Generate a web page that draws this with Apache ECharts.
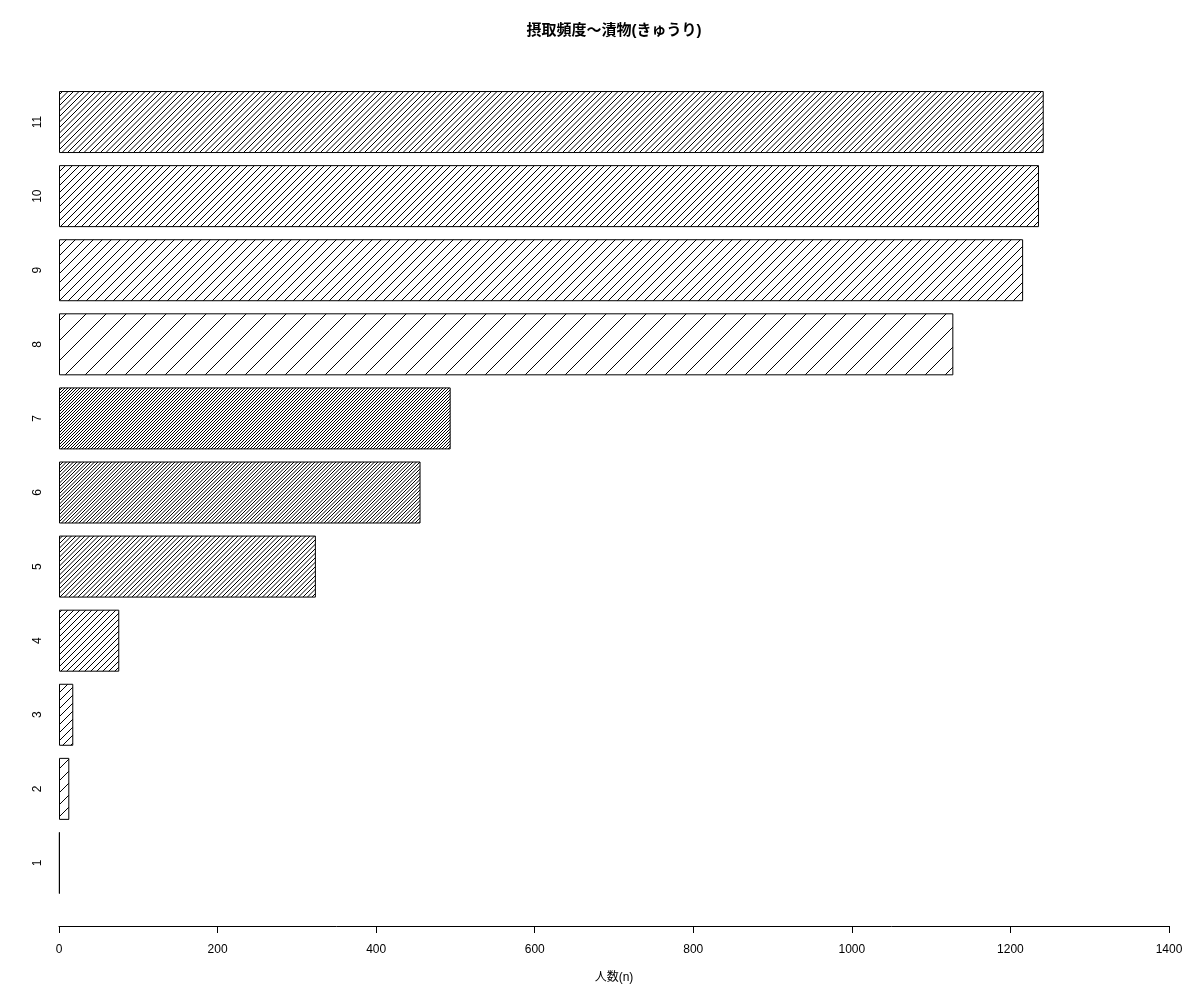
<!DOCTYPE html>
<html>
<head>
<meta charset="utf-8">
<script src="https://cdn.jsdelivr.net/npm/echarts@6/dist/echarts.min.js"></script>
<style>html,body{margin:0;padding:0;background:#fff;}#c{width:1200px;height:1000px;}</style>
</head>
<body>
<div id="c"></div>
<script>
// ---- data ----
var categories = ['1','2','3','4','5','6','7','8','9','10','11'];
var values = [1, 13, 18, 76, 324, 456, 494, 1128, 1216, 1236, 1242];
var xTicks = [0, 200, 400, 600, 800, 1000, 1200, 1400];
var titleText = '摂取頻度〜漬物(きゅうり)';
var xName = '人数(n)';

// ---- style (hatch spacing in px, horizontal) ----
var hatchSpacing = [12, 12, 8, 6, 4.5, 3.5, 3, 20, 9, 7, 5.5];

// one large, seamless hatch canvas per spacing (no tile seams inside a bar)
function makeHatch(s) {
  var W = 1200, H = 1000;
  var c = document.createElement('canvas');
  c.width = W; c.height = H;
  var g = c.getContext('2d');
  g.fillStyle = '#fff'; g.fillRect(0, 0, W, H);
  g.strokeStyle = '#000'; g.lineWidth = 1;
  g.beginPath();
  for (var x0 = -H; x0 <= W + s; x0 += s) {
    g.moveTo(x0, H);
    g.lineTo(x0 + H, 0);
  }
  g.stroke();
  return c;
}

var font = '"Liberation Sans", Arimo, "Noto Sans CJK JP", sans-serif';
var chart = echarts.init(document.getElementById('c'), null, {renderer: 'canvas'});
var data = values.map(function (v, i) {
  return {
    value: v,
    itemStyle: {
      color: {image: makeHatch(hatchSpacing[i]), repeat: 'no-repeat'},
      borderColor: '#000',
      borderWidth: 1
    }
  };
});

chart.setOption({
  animation: false,
  backgroundColor: '#fff',
  title: {
    text: titleText,
    left: 609,
    textAlign: 'center',
    top: 18,
    textStyle: {fontFamily: font, fontSize: 15, fontWeight: 'bold', color: '#000'}
  },
  grid: {left: 59, right: 31, top: 85, bottom: 100},
  xAxis: {
    type: 'value',
    min: xTicks[0],
    max: xTicks[xTicks.length - 1],
    interval: 200,
    offset: 26,
    name: xName,
    nameLocation: 'middle',
    nameGap: 44,
    nameTextStyle: {fontFamily: font, fontSize: 12, color: '#000', padding: [2, 0, 0, 0]},
    axisLine: {show: true, lineStyle: {color: '#000', width: 1}},
    axisTick: {show: true, length: 7, lineStyle: {color: '#000'}},
    axisLabel: {fontFamily: font, fontSize: 12, color: '#000', margin: 18,
      formatter: function (v) { return String(v); }},
    splitLine: {show: false}
  },
  yAxis: {
    type: 'category',
    data: categories,
    axisLine: {show: false},
    axisTick: {show: false},
    axisLabel: {rotate: 90, fontFamily: font, fontSize: 12, color: '#000', margin: 15}
  },
  series: [{
    type: 'bar',
    data: data,
    barWidth: 62,
    silent: true
  }]
});
</script>
</body>
</html>
